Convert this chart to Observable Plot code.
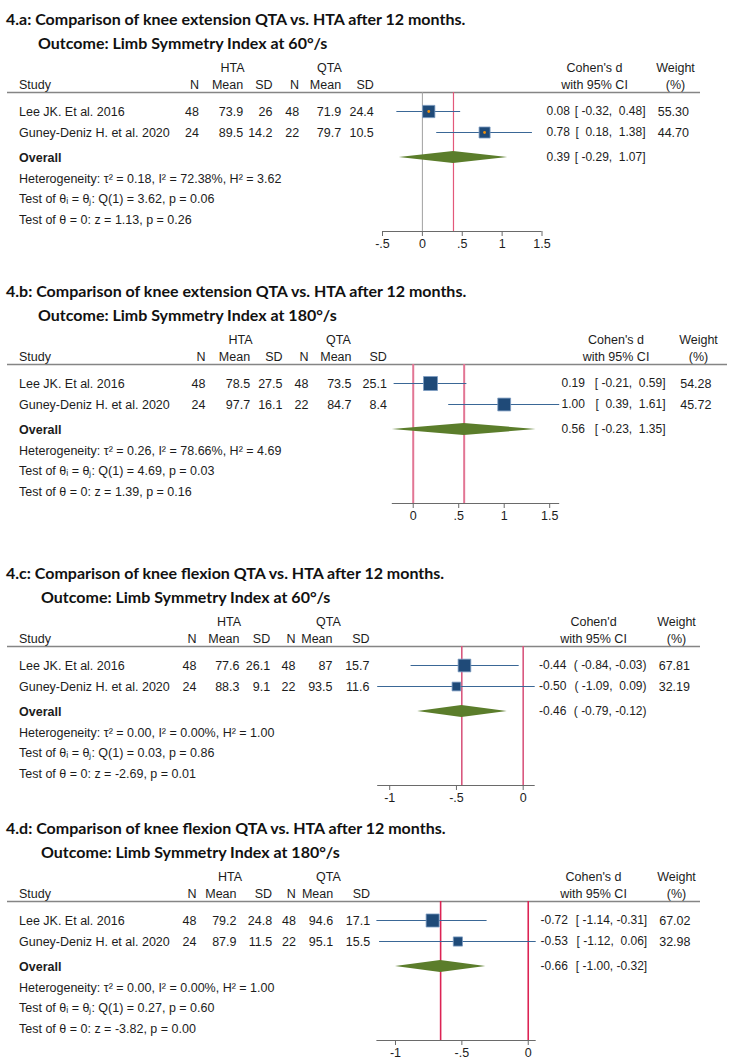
<!DOCTYPE html>
<html>
<head>
<meta charset="utf-8">
<script src="https://cdn.jsdelivr.net/npm/d3@7"></script>
<script src="https://cdn.jsdelivr.net/npm/@observablehq/plot@0.6"></script>
<style>
  body { margin: 0; background: #fff; }
  #page { position: relative; width: 731px; height: 1064px; overflow: hidden; background: #fff; }
  .ttl { position: absolute; font-family: Lato, "Open Sans", sans-serif; font-weight: 700; font-size: 16px;
         line-height: 18px; color: #111; white-space: nowrap; z-index: 2; }
  .panel { position: absolute; left: 0; z-index: 1; }
</style>
</head>
<body>
<div id="page"></div>
<script>
// ---------------- DATA ----------------
const studies = ["Lee JK. Et al. 2016", "Guney-Deniz H. et al. 2020"];
const titles = [
  "4.a: Comparison of knee extension QTA vs. HTA after 12 months.",
  "4.b: Comparison of knee extension QTA vs. HTA after 12 months.",
  "4.c: Comparison of knee flexion QTA vs. HTA after 12 months.",
  "4.d: Comparison of knee flexion QTA vs. HTA after 12 months."
];
const subtitles = [
  "Outcome: Limb Symmetry Index at 60°/s",
  "Outcome: Limb Symmetry Index at 180°/s",
  "Outcome: Limb Symmetry Index at 60°/s",
  "Outcome: Limb Symmetry Index at 180°/s"
];
const effectHeaders = ["Cohen's d", "Cohen's d", "Cohen'd", "Cohen's d"];
const ciBrackets = [["[", "]"], ["[", "]"], ["(", ")"], ["[", "]"]];
const htaN    = [[48, 24], [48, 24], [48, 24], [48, 24]];
const htaMean = [[73.9, 89.5], [78.5, 97.7], [77.6, 88.3], [79.2, 87.9]];
const htaSD   = [[26, 14.2], [27.5, 16.1], [26.1, 9.1], [24.8, 11.5]];
const qtaN    = [[48, 22], [48, 22], [48, 22], [48, 22]];
const qtaMean = [[71.9, 79.7], [73.5, 84.7], [87, 93.5], [94.6, 95.1]];
const qtaSD   = [[24.4, 10.5], [25.1, 8.4], [15.7, 11.6], [17.1, 15.5]];
const cohenD  = [[0.08, 0.78], [0.19, 1.00], [-0.44, -0.50], [-0.72, -0.53]];
const ciLow   = [[-0.32, 0.18], [-0.21, 0.39], [-0.84, -1.09], [-1.14, -1.12]];
const ciHigh  = [[0.48, 1.38], [0.59, 1.61], [-0.03, 0.09], [-0.31, 0.06]];
const weights = [[55.30, 44.70], [54.28, 45.72], [67.81, 32.19], [67.02, 32.98]];
const overallD    = [0.39, 0.56, -0.46, -0.66];
const overallLow  = [-0.29, -0.23, -0.79, -1.00];
const overallHigh = [1.07, 1.35, -0.12, -0.32];
const tau2  = [0.18, 0.26, 0.00, 0.00];
const iSq   = [72.38, 78.66, 0.00, 0.00];
const hSq   = [3.62, 4.69, 1.00, 1.00];
const qStat = [3.62, 4.69, 0.03, 0.27];
const qP    = [0.06, 0.03, 0.86, 0.60];
const zStat = [1.13, 1.39, -2.69, -3.82];
const zP    = [0.26, 0.16, 0.01, 0.00];
const axisTicks = [[-0.5, 0, 0.5, 1, 1.5], [0, 0.5, 1, 1.5], [-1, -0.5, 0], [-1, -0.5, 0]];

// ---------------- LAYOUT ----------------
const PANEL_LINE_Y = [92, 364, 646, 901];          // page y of header rule
const SVG_OFFSET = 50;                               // local y of header rule
const REL = { h1: -25, h2: -8, study: [19, 40], overall: 65, het: 86, t1: 106.5, t2: 127, axis: 139 };
const ROW = {
  h1: SVG_OFFSET + REL.h1, h2: SVG_OFFSET + REL.h2, study: REL.study.map(v => SVG_OFFSET + v),
  overall: SVG_OFFSET + REL.overall, het: SVG_OFFSET + REL.het, t1: SVG_OFFSET + REL.t1,
  t2: SVG_OFFSET + REL.t2, axis: SVG_OFFSET + REL.axis
};
const SVG_H = ROW.axis + 36;
const X_RANGE = [[382, 541.5], [391.8, 559.2], [377.2, 534.7], [376.4, 535.7]];
const MARKER_R100 = [9.3, 10.7, 8.7, 9.0];
const COLS = [
  {n1:198.5, m1:242.7, s1:272,   n2:298.6, m2:340.6, s2:373.3, hta:232,   qta:329, est:546,   ciEnd:645,   effHdr:594,   wEnd:688.5, wHdr:675, lineEnd:700},
  {n1:205,   m1:249.6, s1:282,   n2:308,   m2:351,   s2:386.4, hta:240,   qta:338, est:561,   ciEnd:665,   effHdr:615.5, wEnd:711,   wHdr:698, lineEnd:727},
  {n1:196,   m1:239,   s1:269.7, n2:295,   m2:332,   s2:369,   hta:228.6, qta:328, est:538.5, ciEnd:646,   effHdr:593,   wEnd:689.5, wHdr:676, lineEnd:700},
  {n1:196,   m1:236,   s1:271.6, n2:295.4, m2:332.7, s2:369.6, hta:229.6, qta:328, est:540,   ciEnd:646.7, effHdr:593,   wEnd:690,   wHdr:676, lineEnd:700}
];
const LEFT = 18.5, LINE_START = 7;
const REF_STYLE = [
  {zero: "#a0a0a0", zeroW: 1, ov: "#e3587a", ovW: 1.2},
  {zero: "#e27594", zeroW: 2, ov: "#e27594", ovW: 2},
  {zero: "#d9587e", zeroW: 1.6, ov: "#d9587e", ovW: 1.6},
  {zero: "#dc2354", zeroW: 1.6, ov: "#dc2354", ovW: 1.6}
];
const INK = "#1c1c1c";
const FONT = '"Liberation Sans", Arial, sans-serif';
const FS = 12.5, FS_CI = 12;
const SQ_FILL = "#1f4a78", SQ_STROKE = "#7c9cc2", CI_COL = "#3a6796", DIAMOND = "#5b7d2b", DOT = "#f0900a";

// ---------------- HELPERS ----------------
const NB = "\u00A0";
const f2 = v => v.toFixed(2);
const pad = v => (v < 0 ? NB : NB + NB) + f2(v);
const tickFmt = d => d === 0 ? "0" : String(d).replace(/^(-?)0\./, "$1.");

function buildPanel(i) {
  const c = COLS[i];
  const rows = studies.map((s, j) => ({
    study: s, n1: htaN[i][j], m1: htaMean[i][j], s1: htaSD[i][j],
    n2: qtaN[i][j], m2: qtaMean[i][j], s2: qtaSD[i][j],
    d: cohenD[i][j], lo: ciLow[i][j], hi: ciHigh[i][j], w: weights[i][j],
    y: ROW.study[j]
  }));
  const [ob, cb] = ciBrackets[i];
  const xmin = Math.min(d3.min(axisTicks[i]), d3.min(ciLow[i]), overallLow[i]);
  const xmax = Math.max(d3.max(axisTicks[i]), d3.max(ciHigh[i]), overallHigh[i]);
  // table column pixel positions expressed in the x scale's units (same mapping as the Plot x scale)
  const px = d3.scaleLinear().domain([xmin, xmax]).range(X_RANGE[i]);
  const col = p => px.invert(p);
  const T = (data, y, text, p, anchor = "start", extra = {}) =>
    Plot.text(data, {x: () => col(p), y, text, textAnchor: anchor, fill: INK, fontSize: FS, fontFamily: FONT, ...extra});
  const one = [0];
  const yOv = ROW.overall, h = 6;
  const diamond = [
    {x: overallLow[i], y1: yOv, y2: yOv},
    {x: overallD[i], y1: yOv - h, y2: yOv + h},
    {x: overallHigh[i], y1: yOv, y2: yOv}
  ];
  const ci = (lo, hi) => `${ob}${pad(lo)},${pad(hi)}${cb}`;
  const rs = REF_STYLE[i];
  const lineY = ROW.h2 - REL.h2;
  const marks = [
    // header
    T(one, () => ROW.h1, () => "HTA", c.hta, "middle"),
    T(one, () => ROW.h1, () => "QTA", c.qta, "middle"),
    T(one, () => ROW.h1, () => effectHeaders[i], c.effHdr, "middle"),
    T(one, () => ROW.h1, () => "Weight", c.wHdr, "middle"),
    T(one, () => ROW.h2, () => "Study", LEFT),
    T(one, () => ROW.h2, () => "N", c.n1, "end"),
    T(one, () => ROW.h2, () => "Mean", c.m1, "end"),
    T(one, () => ROW.h2, () => "SD", c.s1, "end"),
    T(one, () => ROW.h2, () => "N", c.n2, "end"),
    T(one, () => ROW.h2, () => "Mean", c.m2, "end"),
    T(one, () => ROW.h2, () => "SD", c.s2, "end"),
    T(one, () => ROW.h2, () => "with 95% CI", c.effHdr, "middle"),
    T(one, () => ROW.h2, () => "(%)", c.wHdr, "middle"),
    Plot.ruleY(one, {y: () => lineY, x1: () => col(LINE_START), x2: () => col(c.lineEnd), stroke: "#858585", strokeWidth: 1.5}),
    // study rows
    T(rows, "y", "study", LEFT),
    T(rows, "y", d => String(d.n1), c.n1, "end"),
    T(rows, "y", d => String(d.m1), c.m1, "end"),
    T(rows, "y", d => String(d.s1), c.s1, "end"),
    T(rows, "y", d => String(d.n2), c.n2, "end"),
    T(rows, "y", d => String(d.m2), c.m2, "end"),
    T(rows, "y", d => String(d.s2), c.s2, "end"),
    T(rows, "y", d => f2(d.d), c.est, "start", {fontSize: FS_CI}),
    T(rows, "y", d => ci(d.lo, d.hi), c.ciEnd, "end", {fontSize: FS_CI}),
    T(rows, "y", d => f2(d.w), c.wEnd, "end"),
    // overall & stats
    T(one, () => yOv, () => "Overall", LEFT, "start", {fontWeight: "bold"}),
    T(one, () => yOv, () => f2(overallD[i]), c.est, "start", {fontSize: FS_CI}),
    T(one, () => yOv, () => ci(overallLow[i], overallHigh[i]), c.ciEnd, "end", {fontSize: FS_CI}),
    T(one, () => ROW.het, () => `Heterogeneity: τ² = ${f2(tau2[i])}, I² = ${f2(iSq[i])}%, H² = ${f2(hSq[i])}`, LEFT),
    T(one, () => ROW.t1, () => `Test of θᵢ = θⱼ: Q(1) = ${f2(qStat[i])}, p = ${f2(qP[i])}`, LEFT),
    T(one, () => ROW.t2, () => `Test of θ = 0: z = ${f2(zStat[i])}, p = ${f2(zP[i])}`, LEFT),
    // reference lines
    Plot.ruleX([0], {x: d => d, y1: () => lineY, y2: () => ROW.axis, stroke: rs.zero, strokeWidth: rs.zeroW}),
    Plot.ruleX([overallD[i]], {x: d => d, y1: () => lineY, y2: () => ROW.axis, stroke: rs.ov, strokeWidth: rs.ovW}),
    // CIs and squares
    Plot.ruleY(rows, {y: "y", x1: "lo", x2: "hi", stroke: CI_COL, strokeWidth: 1.2}),
    Plot.dot(rows, {x: "d", y: "y", r: "w", symbol: "square", fill: SQ_FILL, stroke: SQ_STROKE, strokeWidth: 0.8}),
    // overall diamond
    Plot.areaY(diamond, {x: "x", y1: "y1", y2: "y2", fill: DIAMOND, curve: "linear"}),
    // axis
    Plot.ruleY(one, {y: () => ROW.axis, x1: () => xmin, x2: () => xmax, stroke: "#6a6a6a", strokeWidth: 1}),
    Plot.axisX({ticks: axisTicks[i], tickFormat: tickFmt, tickSize: 5, tickPadding: 3, label: null,
      stroke: "#6a6a6a", fill: INK, fontSize: FS, fontFamily: FONT})
  ];
  if (i === 0) marks.push(Plot.dot(rows, {x: "d", y: "y", r: 1.4, fill: DOT}));
  return Plot.plot({
    width: 731, height: SVG_H,
    marginTop: 0, marginLeft: 0, marginRight: 0, marginBottom: SVG_H - ROW.axis,
    x: {type: "linear", domain: [xmin, xmax], range: X_RANGE[i]},
    y: {type: "identity"},
    r: {type: "sqrt", domain: [0, 100], range: [0, MARKER_R100[i]]},
    style: {fontFamily: FONT, fontSize: FS + "px", color: INK, background: "transparent"},
    marks
  });
}

const page = document.getElementById("page");
for (let i = 0; i < 4; i++) {
  const L = PANEL_LINE_Y[i];
  const wrap = document.createElement("div");
  wrap.className = "panel"; wrap.style.top = (L - SVG_OFFSET) + "px";
  wrap.appendChild(buildPanel(i));
  page.appendChild(wrap);
  const t = document.createElement("div");
  t.className = "ttl"; t.textContent = titles[i];
  t.style.left = "6px"; t.style.top = (L - 73 - 9) + "px";
  page.appendChild(t);
  const s = document.createElement("div");
  s.className = "ttl"; s.textContent = subtitles[i];
  s.style.left = (i < 2 ? 38 : 41) + "px"; s.style.top = (L - 49 - 9) + "px";
  page.appendChild(s);
}
</script>
</body>
</html>
